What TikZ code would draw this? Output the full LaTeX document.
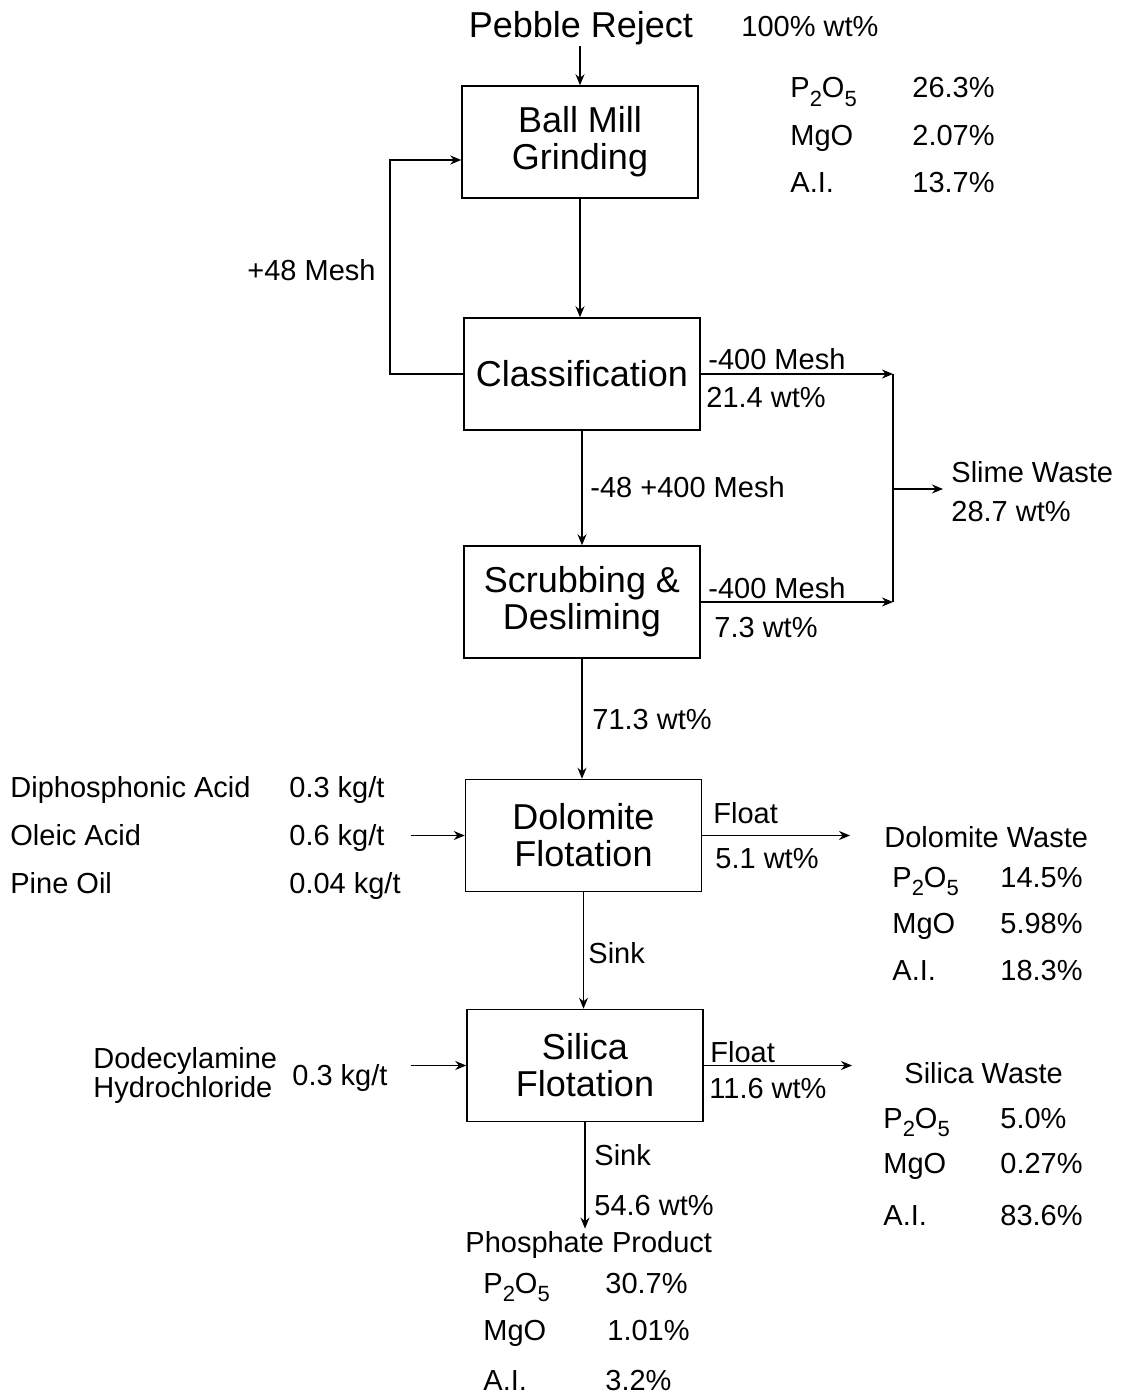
\documentclass[tikz,border=0pt]{standalone}
\usepackage{fontspec}
\setmainfont{Liberation Sans}
\usetikzlibrary{arrows.meta}
\newcommand\boxfont{\fontsize{18}{18.5}\selectfont}
\newcommand\lblfont{\fontsize{14.5}{14.5}\selectfont}
\newcommand\chemsub[1]{\raisebox{-0.3em}{\fontsize{11}{11}\selectfont #1}}
\newcommand\PtwoOfive{P\chemsub{2}O\chemsub{5}}
\begin{document}
\begin{tikzpicture}[x=0.5pt,y=-0.5pt,
  stage/.style={draw, line width=0.75pt, minimum width=118pt, minimum height=56pt,
    inner sep=0pt, align=center, font=\boxfont},
  lbl/.style={anchor=base west, inner sep=0pt, font=\lblfont},
  flow/.style={line width=0.7pt, -{Stealth[length=5.5pt,width=4.5pt]}},
  pipe/.style={line width=0.7pt}]
\useasboundingbox (0,0) rectangle (1120,1395);

% feed
\node[anchor=base, inner sep=0pt, font=\boxfont] (pebble) at (581,38) {Pebble Reject};
\node[lbl] (feedwt) at (741,37) {100\% wt\%};
\node[lbl] (fp) at (790,98) {\PtwoOfive};   \node[lbl] (fpv) at (912,98) {26.3\%};
\node[lbl] (fm) at (790,146) {MgO};         \node[lbl] (fmv) at (912,146) {2.07\%};
\node[lbl] (fa) at (790,193) {A.I.};        \node[lbl] (fav) at (912,193) {13.7\%};

% process stages
\node[stage] (mill) at (580,142) {Ball Mill\\Grinding};
\node[stage] (cls)  at (582,374) {Classification};
\node[stage] (scr)  at (582,602) {Scrubbing \&\\Desliming};
\node[stage] (dol)  at (583.5,835.5) {Dolomite\\Flotation};
\node[stage] (sil)  at (585,1065.5) {Silica\\Flotation};

% main line
\draw[flow] (mill.north |- pebble.south) -- (mill.north);
\draw[flow] (mill.south) -- (mill.south |- cls.north);
\draw[flow] (cls.south) -- (cls.south |- scr.north);
\draw[flow] (scr.south) -- (scr.south |- dol.north);
\draw[flow] (dol.south) -- (dol.south |- sil.north);

% oversize recycle
\coordinate (looptop) at (390,160);
\draw[flow] (cls.west) -| (looptop) -- (mill.west |- looptop);
\node[lbl] (m48) at (247,281) {+48 Mesh};

% slimes
\coordinate (sjm) at (893,489);
\node[anchor=west, align=left, inner sep=0pt, font=\fontsize{14.5}{19.5}\selectfont]
  (slime) at (951,492) {Slime Waste\\28.7 wt\%};
\draw[flow] (cls.east) -- (cls.east -| sjm);
\draw[flow] (scr.east) -- (scr.east -| sjm);
\draw[pipe] (cls.east -| sjm) -- (scr.east -| sjm);
\draw[flow] (sjm) -- ([xshift=-4pt]sjm -| slime.west);
\node[lbl] (c400) at (708,370) {-400 Mesh};
\node[lbl] (c214) at (706,408) {21.4 wt\%};
\node[lbl] (s400) at (708,598) {-400 Mesh};
\node[lbl] (s73)  at (714,637) {7.3 wt\%};
\node[lbl] (m48400) at (590,497) {-48 +400 Mesh};
\node[lbl] (w713) at (592,729) {71.3 wt\%};

% dolomite flotation reagents
\node[lbl] (r1) at (10,797) {Diphosphonic Acid}; \node[lbl] (r1v) at (289,797) {0.3 kg/t};
\node[lbl] (r2) at (10,845) {Oleic Acid};        \node[lbl] (r2v) at (289,845) {0.6 kg/t};
\node[lbl] (r3) at (10,893) {Pine Oil};          \node[lbl] (r3v) at (289,893) {0.04 kg/t};
\coordinate (dolin) at (411,835.5);
\draw[flow] (dolin) -- (dol.west);

% dolomite waste
\coordinate (dolout) at (850,835.5);
\draw[flow] (dol.east) -- (dolout);
\node[lbl] (dfl) at (713,823) {Float};
\node[lbl] (dwt) at (715,868) {5.1 wt\%};
\node[lbl] (dw)  at (884,847) {Dolomite Waste};
\node[lbl] (dp) at (892,887) {\PtwoOfive}; \node[lbl] (dpv) at (1000,887) {14.5\%};
\node[lbl] (dm) at (892,933) {MgO};        \node[lbl] (dmv) at (1000,933) {5.98\%};
\node[lbl] (da) at (892,980) {A.I.};       \node[lbl] (dav) at (1000,980) {18.3\%};
\node[lbl] (dsink) at (588,963) {Sink};

% silica flotation reagent
\node[anchor=west, align=left, inner sep=0pt, font=\lblfont]
  (amine) at (93,1075) {Dodecylamine\\Hydrochloride};
\node[lbl] (aminev) at (292,1085) {0.3 kg/t};
\coordinate (silin) at (411,1065.5);
\draw[flow] (silin) -- (sil.west);

% silica waste
\coordinate (silout) at (852,1065.5);
\draw[flow] (sil.east) -- (silout);
\node[lbl] (sfl) at (710,1062) {Float};
\node[lbl] (swt) at (709,1098) {11.6 wt\%};
\node[lbl] (sw)  at (904,1083) {Silica Waste};
\node[lbl] (sp) at (883,1128) {\PtwoOfive}; \node[lbl] (spv) at (1000,1128) {5.0\%};
\node[lbl] (sm) at (883,1173) {MgO};        \node[lbl] (smv) at (1000,1173) {0.27\%};
\node[lbl] (sa) at (883,1225) {A.I.};       \node[lbl] (sav) at (1000,1225) {83.6\%};

% product
\node[lbl] (psink) at (594,1165) {Sink};
\node[lbl] (pwt) at (594,1215) {54.6 wt\%};
\node[lbl] (prod) at (465,1252) {Phosphate Product};
\draw[flow] (sil.south) -- ([yshift=1pt]sil.south |- prod.north);
\node[lbl] (pp) at (483,1293) {\PtwoOfive}; \node[lbl] (ppv) at (605,1293) {30.7\%};
\node[lbl] (pm) at (483,1340) {MgO};        \node[lbl] (pmv) at (607,1340) {1.01\%};
\node[lbl] (pa) at (483,1390) {A.I.};       \node[lbl] (pav) at (605,1390) {3.2\%};
\end{tikzpicture}
\end{document}
